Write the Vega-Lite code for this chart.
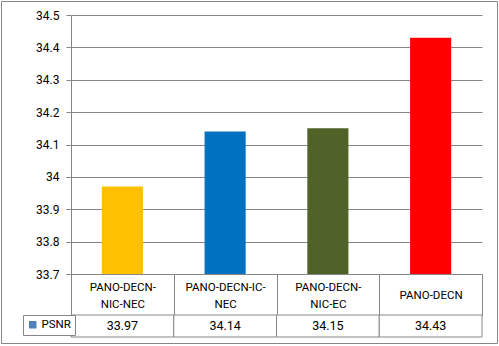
{
  "$schema": "https://vega.github.io/schema/vega-lite/v6.json",
  "width": 496,
  "height": 342,
  "autosize": {"type": "none"},
  "padding": {"left": 1, "top": 1, "right": 2, "bottom": 3},
  "background": "white",
  "config": {"view": {"stroke": "#868686", "strokeWidth": 1}, "font": "Roboto"},
  "data": {
    "values": [
      {"method": "PANO-DECN-NIC-NEC", "series": "PSNR", "psnr": 33.97},
      {"method": "PANO-DECN-IC-NEC", "series": "PSNR", "psnr": 34.14},
      {"method": "PANO-DECN-NIC-EC", "series": "PSNR", "psnr": 34.15},
      {"method": "PANO-DECN", "series": "PSNR", "psnr": 34.43}
    ]
  },
  "resolve": {"scale": {"y": "independent", "color": "independent"}},
  "encoding": {
    "x": {
      "field": "method", "type": "nominal", "sort": null,
      "scale": {"range": [70, 481], "paddingInner": 0, "paddingOuter": 0},
      "axis": {
        "orient": "bottom", "offset": -69, "title": null,
        "domainColor": "#868686", "tickColor": "#868686",
        "tickBand": "extent", "tickSize": 41,
        "labelPadding": -19.5, "labelAngle": 0,
        "labelBaseline": {"condition": {"test": "length(datum.label) > 10", "value": "line-bottom"}, "value": "middle"},
        "labelLineHeight": 16.5, "labelFont": "Roboto", "labelFontSize": 11.5,
        "labelColor": "#000000", "labelOverlap": false, "labelLimit": 0,
        "labelExpr": "length(datum.label) > 10 ? (indexof(datum.label, '-IC-') > 0 ? [substring(datum.label, 0, 13), substring(datum.label, 13)] : [substring(datum.label, 0, 10), substring(datum.label, 10)]) : datum.label"
      }
    }
  },
  "layer": [
    {
      "mark": {"type": "bar", "width": {"band": 0.4}},
      "encoding": {
        "y": {
          "field": "psnr", "type": "quantitative",
          "scale": {"domain": [33.7, 34.5], "range": [273, 14], "nice": false, "zero": false},
          "axis": {
            "title": null, "offset": -70,
            "values": [33.7, 33.8, 33.9, 34, 34.1, 34.2, 34.3, 34.4, 34.5],
            "format": ".4~g", "tickSize": 5, "labelPadding": 7,
            "grid": true, "gridColor": "#868686", "domainColor": "#868686", "tickColor": "#868686",
            "labelFont": "Roboto", "labelFontSize": 12, "labelColor": "#000000"
          }
        },
        "y2": {"datum": 33.7},
        "color": {
          "field": "method", "type": "nominal", "sort": null,
          "scale": {"range": ["#FFC000", "#0070C0", "#4F6228", "#FF0000"]},
          "legend": null
        }
      }
    },
    {
      "encoding": {
        "y": {
          "field": "series", "type": "nominal",
          "scale": {"range": [314, 336], "paddingInner": 0, "paddingOuter": 0},
          "axis": null
        }
      },
      "layer": [
        {"mark": {"type": "rect", "fill": "white", "stroke": "#868686", "strokeWidth": 1}},
        {
          "mark": {"type": "text", "font": "Roboto", "fontSize": 12.5, "color": "black", "baseline": "middle"},
          "encoding": {"text": {"field": "psnr", "type": "quantitative", "format": ".2f"}}
        },
        {
          "mark": {"type": "square", "opacity": 0},
          "encoding": {
            "color": {
              "field": "series", "type": "nominal",
              "scale": {"range": ["#4F81BD"]},
              "legend": {
                "title": null, "orient": "none", "legendX": 22, "legendY": 314,
                "strokeColor": "#868686", "fillColor": "white", "padding": 4,
                "symbolType": "square", "symbolSize": 56, "symbolOpacity": 1, "symbolStrokeWidth": 0,
                "labelFont": "Roboto", "labelFontSize": 11.5, "labelColor": "black", "labelOffset": 3
              }
            }
          }
        }
      ]
    }
  ]
}
